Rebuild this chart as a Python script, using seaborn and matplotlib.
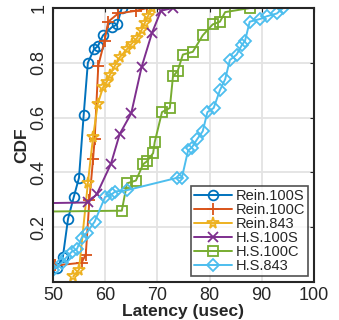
import matplotlib
matplotlib.use("Agg")
import matplotlib.pyplot as plt
import seaborn as sns
import pandas as pd

# latency (usec) and CDF values
rein100s_x = [50.8, 51.9, 52.9, 54.0, 55.0, 55.9, 56.7, 57.9, 58.6, 59.6, 61.3, 62.3, 63.2]
rein100s_y = [0.05, 0.09, 0.23, 0.31, 0.38, 0.61, 0.80, 0.85, 0.86, 0.90, 0.93, 0.94, 1.0]

rein100c_x = [50.5, 55.5, 56.3, 57.0, 57.7, 58.0, 58.7, 59.9, 60.6, 62.5, 66.0, 68.0]
rein100c_y = [0.06, 0.07, 0.10, 0.30, 0.45, 0.52, 0.79, 0.88, 0.95, 0.98, 0.99, 1.0]

rein843_x = [53.9, 55.0, 56.7, 57.7, 58.6, 59.6, 60.3, 60.9, 61.9, 62.8, 64.2, 65.1,
             66.1, 67.0, 67.6, 68.2, 69.0]
rein843_y = [0.02, 0.045, 0.36, 0.53, 0.65, 0.71, 0.73, 0.755, 0.79, 0.82, 0.85, 0.87,
             0.89, 0.92, 0.945, 0.97, 1.0]

hs100s_x = [40.0, 56.7, 58.4, 61.1, 62.8, 65.0, 67.0, 69.0, 70.7, 73.0]
hs100s_y = [0.285, 0.29, 0.32, 0.43, 0.54, 0.615, 0.785, 0.91, 0.99, 1.0]

hs100c_x = [40.0, 63.2, 64.2, 65.9, 67.3, 68.0, 69.2, 69.5, 70.9, 72.4, 73.0, 73.9,
            74.9, 76.8, 78.7, 80.6, 82.0, 83.0, 87.8]
hs100c_y = [0.255, 0.26, 0.36, 0.37, 0.43, 0.44, 0.47, 0.51, 0.62, 0.635, 0.75, 0.77,
            0.83, 0.84, 0.90, 0.94, 0.95, 0.985, 1.0]

hs843_x = [50.0, 51.7, 52.6, 53.6, 54.6, 55.5, 56.5, 58.0, 60.0, 61.3, 61.9, 64.2,
           73.8, 74.7, 75.9, 76.6, 77.6, 78.7, 79.6, 80.8, 82.0, 83.0, 83.9, 85.2,
           86.2, 86.8, 87.7, 89.7, 91.0, 92.9, 94.1]
hs843_y = [0.045, 0.07, 0.09, 0.11, 0.12, 0.16, 0.18, 0.22, 0.31, 0.32, 0.33, 0.335,
           0.38, 0.38, 0.48, 0.49, 0.52, 0.55, 0.62, 0.635, 0.70, 0.74, 0.81, 0.83,
           0.865, 0.88, 0.95, 0.96, 0.97, 0.98, 1.0]

series = [
    ("Rein.100S", rein100s_x, rein100s_y, "o", "#0072BD"),
    ("Rein.100C", rein100c_x, rein100c_y, "+", "#D95319"),
    ("Rein.843", rein843_x, rein843_y, "*", "#EDB120"),
    ("H.S.100S", hs100s_x, hs100s_y, "x", "#7E2F8E"),
    ("H.S.100C", hs100c_x, hs100c_y, "s", "#77AC30"),
    ("H.S.843", hs843_x, hs843_y, "D", "#4DBEEE"),
]
marker_sizes = {"o": 7, "+": 8, "*": 8.5, "x": 7, "s": 6.5, "D": 6}

sns.set_style("whitegrid")
plt.rcParams['font.family'] = ['Liberation Sans', 'DejaVu Sans']

fig = plt.figure(figsize=(3.39, 3.20), dpi=100)
ax = fig.add_axes([0.156, 0.119, 0.770, 0.856])

for name, xs, ys, mk, col in series:
    df = pd.DataFrame({"x": xs, "y": ys})
    sns.lineplot(data=df, x="x", y="y", ax=ax, sort=False, estimator=None,
                 color=col, marker=mk, markersize=marker_sizes[mk],
                 markerfacecolor="none", markeredgecolor=col,
                 markeredgewidth=1.3, linewidth=1.4, label=name)

ax.set_xlim(50, 100)
ax.set_ylim(0, 1)
ax.set_xticks(range(50, 101, 10))
ax.set_yticks([0.2, 0.4, 0.6, 0.8, 1])
ax.set_yticklabels(["0.2", "0.4", "0.6", "0.8", "1"], rotation=90, va="center")
ax.grid(True, color="#e3e3e3", linewidth=1.3)
ax.tick_params(direction="in", length=3, labelsize=13, top=True, right=True,
               colors="#262626", pad=4)
for sp in ax.spines.values():
    sp.set_color("#262626")
    sp.set_linewidth(1.5)
ax.set_xlabel("Latency (usec)", fontsize=12.5, fontweight="bold", labelpad=0)
ax.set_ylabel("CDF", fontsize=12.5, fontweight="bold", labelpad=1)

leg = ax.legend(loc="lower right", fontsize=10.5, frameon=True, fancybox=False,
                handlelength=2.6, handletextpad=0.25, labelspacing=0.0,
                borderpad=0.2, borderaxespad=0.4)
leg.get_frame().set_edgecolor("#262626")
leg.get_frame().set_linewidth(1.2)

fig.savefig("out.png", dpi=100)
